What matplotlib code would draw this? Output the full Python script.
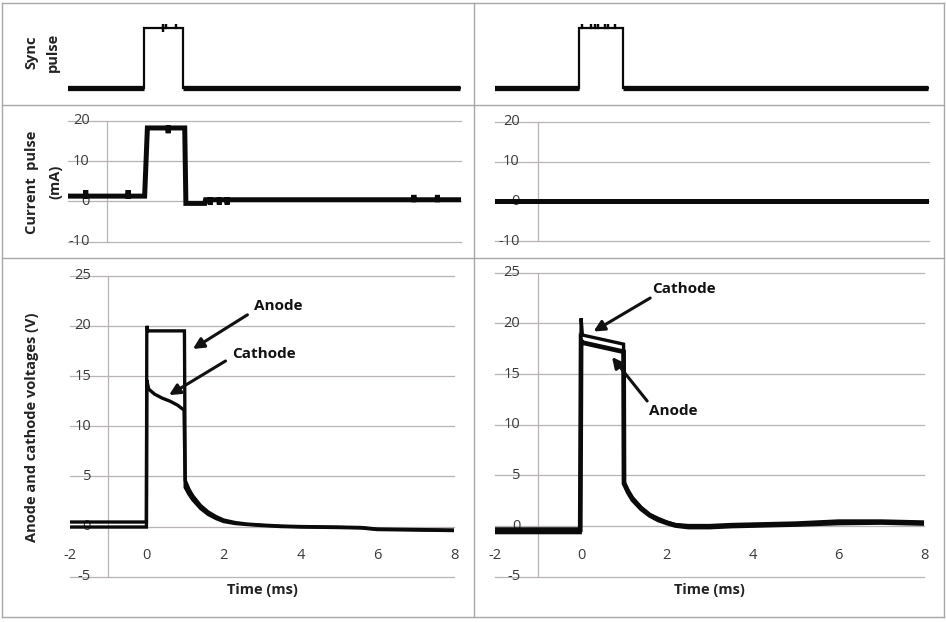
import numpy as np
import matplotlib.pyplot as plt
from matplotlib.lines import Line2D

W, H = 946, 622

# ---- data (time in ms) ----
# sync pulse (arbitrary units, low = 0, high = 5)
sync_left_t = [-2.02, -0.07, -0.07, 0.41, 0.41, 0.41, 0.41, 0.49, 0.49, 0.49, 0.75, 0.75, 0.75,
               0.93, 0.93, 7.98]
sync_left_v = [0, 0, 5, 5, 5.35, 4.7, 5, 5, 5.35, 5, 5, 5.35, 5,
               5, 0, 0]
sync_right_t = [-2.06, -0.07, -0.07, 0.0, 0.0, 0.0, 0.22, 0.22, 0.22, 0.30, 0.30, 0.30, 0.38, 0.38, 0.38,
                0.53, 0.53, 0.53, 0.61, 0.61, 0.61, 0.76, 0.76, 0.76, 0.95, 0.95, 7.97]
sync_right_v = [0, 0, 5, 5, 5.3, 5, 5, 5.3, 5, 5, 5.3, 5, 5, 5.3, 5,
                5, 5.3, 5, 5, 5.3, 5, 5, 5.3, 5, 5, 0, 0]

# current pulse (mA)
current_left_t = [-2.0, -1.55, -1.55, -1.55, -0.47, -0.47, -0.47, -0.05, 0.02, 0.55, 0.55, 0.55,
                  0.97, 1.0, 1.48, 1.5, 1.62, 1.62, 1.62, 1.85, 1.85, 1.85, 2.05, 2.05, 2.05,
                  6.8, 6.8, 6.8, 7.4, 7.4, 7.4, 8.0]
current_left_v = [1.3, 1.3, 2.8, 1.3, 1.3, 2.8, 1.3, 1.3, 18.2, 18.2, 16.9, 18.2,
                  18.2, -0.5, -0.5, 0.4, 0.4, -0.8, 0.4, 0.4, -0.8, 0.4, 0.4, -0.8, 0.4,
                  0.4, 1.6, 0.4, 0.4, 1.6, 0.4, 0.4]
current_right_t = [-2.0, 8.0]
current_right_v = [0.2, 0.2]

# anode / cathode voltages (V)
anode_left_t = [-2.0, -0.01, 0.0, 0.03, 0.98, 1.0, 1.1, 1.2, 1.4, 1.6, 1.8, 2.0, 2.3, 2.6, 3.0, 3.5,
                4.0, 5.0, 5.6, 6.0, 7.0, 8.0]
anode_left_v = [0.45, 0.45, 20.0, 19.5, 19.5, 4.6, 3.7, 3.05, 2.1, 1.45, 1.0, 0.65, 0.4, 0.25, 0.15, 0.05,
                0.0, -0.05, -0.1, -0.25, -0.3, -0.35]
cathode_left_t = [-2.0, -0.01, 0.0, 0.05, 0.2, 0.4, 0.6, 0.8, 0.97, 1.0, 1.1, 1.2, 1.4, 1.6, 1.8, 2.0,
                  2.3, 2.6, 3.0, 3.5, 4.0, 5.0, 5.6, 6.0, 7.0, 8.0]
cathode_left_v = [-0.05, -0.05, 14.6, 13.7, 13.2, 12.8, 12.5, 12.1, 11.6, 3.9, 3.2, 2.65, 1.8, 1.2, 0.8, 0.5,
                  0.3, 0.2, 0.1, 0.0, -0.05, -0.1, -0.15, -0.3, -0.35, -0.4]
anode_right_t = [-2.0, -0.02, 0.0, 0.03, 0.99, 1.0, 1.1, 1.2, 1.4, 1.6, 1.8, 2.0, 2.2, 2.5, 3.0, 3.5,
                 4.0, 5.0, 6.0, 7.0, 8.0]
anode_right_v = [-0.35, -0.35, 18.3, 18.1, 17.2, 4.2, 3.3, 2.6, 1.7, 1.05, 0.6, 0.3, 0.05, -0.1, -0.1, 0.0,
                 0.05, 0.15, 0.3, 0.35, 0.25]
cathode_right_t = [-2.0, -0.02, 0.0, 0.03, 0.99, 1.0, 1.1, 1.2, 1.4, 1.6, 1.8, 2.0, 2.2, 2.5, 3.0, 3.5,
                   4.0, 5.0, 6.0, 7.0, 8.0]
cathode_right_v = [-0.65, -0.65, 20.5, 18.85, 17.95, 4.4, 3.5, 2.8, 1.85, 1.15, 0.75, 0.4, 0.15, 0.05, 0.05, 0.15,
                   0.2, 0.3, 0.5, 0.5, 0.4]

time_ticks = [-2, 0, 2, 4, 6, 8]
current_ticks = [-10, 0, 10, 20]
voltage_ticks = [-5, 0, 5, 10, 15, 20, 25]

GRID = "#b9b3b3"
BORDER = "#a8a8a8"
INK = "#0a0a0a"
TICK = "#3a3a3a"

plt.rcParams["font.family"] = ["Open Sans", "DejaVu Sans"]

fig = plt.figure(figsize=(W / 100, H / 100), dpi=100)


def panel(x0, x1, y_top, y_bot, ylim):
    # pixel box: x0/x1 are t=-2 and t=8, y_top/y_bot are ylim top and bottom
    ax = fig.add_axes([x0 / W, 1 - y_bot / H, (x1 - x0) / W, (y_bot - y_top) / H])
    ax.set_xlim(-2, 8)
    ax.set_ylim(*ylim)
    for s in ax.spines.values():
        s.set_visible(False)
    ax.set_xticks([])
    ax.set_yticks([])
    ax.patch.set_alpha(0)
    return ax


def grid_axis(ax, ticks, label_x=-1.45):
    for v in ticks:
        ax.axhline(v, color=GRID, lw=0.9, zorder=0, clip_on=False)
        ax.text(label_x, v, str(v), ha="right", va="center", fontsize=10.5, color=TICK, zorder=1)
    ax.axvline(-1, color=GRID, lw=0.9, zorder=0, clip_on=False)


def time_axis(ax, y_labels, y_title):
    for t in time_ticks:
        ax.text(t, y_labels, str(t), ha="center", va="center", fontsize=10.5, color=TICK)
    ax.text(3, y_title, "Time (ms)", ha="center", va="center", fontsize=10.5,
            fontweight="bold", color="#222222", clip_on=False)


def sync_trace(ax, t, v):
    v = np.asarray(v, dtype=float)
    ax.plot(t, v, color=INK, lw=1.6, solid_joinstyle="miter")
    ax.plot(t, np.where(v <= 0, v, np.nan), color=INK, lw=3.8, solid_capstyle="butt")


def arrow(ax, text, text_xy, tail, head):
    ax.text(*text_xy, text, ha="center", va="center", fontsize=11, fontweight="bold", color="#111111")
    ax.annotate("", xy=head, xytext=tail,
                arrowprops=dict(arrowstyle="-|>", color="#111111", lw=2.2, mutation_scale=16,
                                shrinkA=0, shrinkB=0))


# ---- top row: sync pulse ----
ax = panel(68, 461, 8, 100, (-1, 6.67))
sync_trace(ax, sync_left_t, sync_left_v)
ax = panel(494.7, 929.3, 8, 100, (-1, 6.67))
sync_trace(ax, sync_right_t, sync_right_v)

# ---- middle row: current pulse ----
ax = panel(68, 461, 120.7, 241.7, (-10, 20))
grid_axis(ax, current_ticks)
ax.plot(current_left_t, current_left_v, color=INK, lw=3.6, solid_joinstyle="miter")
ax = panel(494.7, 929.3, 121.7, 241.3, (-10, 20))
grid_axis(ax, current_ticks, label_x=-1.42)
ax.plot(current_right_t, current_right_v, color=INK, lw=3.6)

# ---- bottom row: anode and cathode voltages ----
ax = panel(70, 454, 275.7, 576.7, (-5, 25))
grid_axis(ax, voltage_ticks)
ax.plot(anode_left_t, anode_left_v, color=INK, lw=2.4, solid_joinstyle="miter")
ax.plot(cathode_left_t, cathode_left_v, color=INK, lw=2.4, solid_joinstyle="miter")
time_axis(ax, -2.86, -6.35)
arrow(ax, "Anode", (3.43, 22.0), (2.62, 21.1), (1.2, 17.7))
arrow(ax, "Cathode", (3.05, 17.15), (2.05, 16.5), (0.58, 13.1))

ax = panel(495.3, 924.3, 272.7, 576.7, (-5, 25))
grid_axis(ax, voltage_ticks, label_x=-1.42)
ax.plot(anode_right_t, anode_right_v, color=INK, lw=3.4, solid_joinstyle="miter")
ax.plot(cathode_right_t, cathode_right_v, color=INK, lw=2.4, solid_joinstyle="miter")
time_axis(ax, -2.9, -6.35)
arrow(ax, "Cathode", (2.40, 23.43), (1.61, 22.5), (0.29, 19.2))
arrow(ax, "Anode", (2.15, 11.35), (1.54, 12.34), (0.72, 16.68))

# ---- row titles on the left ----
ylab = dict(rotation=90, ha="center", va="center", fontsize=10.5, fontweight="bold", color="#222222")
fig.text(31 / W, 1 - 52 / H, "Sync", **ylab)
fig.text(53 / W, 1 - 52 / H, "pulse", **ylab)
fig.text(32 / W, 1 - 182 / H, "Current  pulse", **ylab)
fig.text(55 / W, 1 - 182 / H, "(mA)", **ylab)
fig.text(32 / W, 1 - 427 / H, "Anode and cathode voltages (V)", **ylab)


# ---- table borders ----
def hline(y, x0=2, x1=944):
    fig.add_artist(Line2D([x0 / W, x1 / W], [1 - y / H, 1 - y / H], color=BORDER, lw=1))


def vline(x, y0=3, y1=617):
    fig.add_artist(Line2D([x / W, x / W], [1 - y0 / H, 1 - y1 / H], color=BORDER, lw=1))


for y in (3, 104.5, 257.5, 616.5):
    hline(y)
for x in (2, 474, 944):
    vline(x)

fig.savefig("out.png", dpi=100)
